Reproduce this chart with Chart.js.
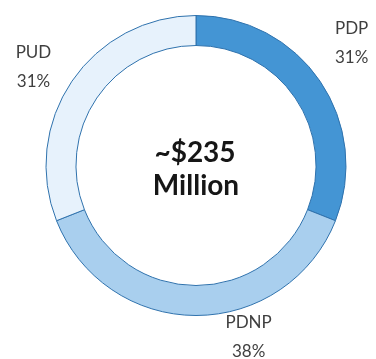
<!DOCTYPE html>
<html>
<head>
<meta charset="utf-8">
<script src="https://cdn.jsdelivr.net/npm/chart.js@4/dist/chart.umd.min.js"></script>
<style>
  html, body { margin: 0; padding: 0; background: #ffffff; }
  #wrap { width: 376px; height: 359px; position: relative; }
</style>
</head>
<body>
<div id="wrap"><canvas id="c" width="376" height="359"></canvas></div>
<script>
// Reserve categories and their share of the total (percent)
const categories = ['PDP', 'PDNP', 'PUD'];
const shares = [31, 38, 31];
const centerLines = ['~$235', 'Million'];

const fills = ['#4495d4', '#a9cfee', '#e7f2fc'];
const edge = '#2f72ad';

// Where each outside label sits: angle nudge (deg) and distance from centre (px)
const labelPlacement = [
  { nudge: -4, dist: 198 },
  { nudge: -17, dist: 180 },
  { nudge: -3, dist: 190 }
];

const sliceLabels = {
  id: 'sliceLabels',
  afterDatasetsDraw(chart) {
    const ctx = chart.ctx;
    const meta = chart.getDatasetMeta(0);
    ctx.save();
    ctx.fillStyle = '#3f3f3f';
    ctx.font = '17px Lato, "Open Sans", sans-serif';
    ctx.textAlign = 'center';
    ctx.textBaseline = 'middle';
    meta.data.forEach((arc, i) => {
      const p = arc.getProps(['x', 'y', 'startAngle', 'endAngle'], true);
      const mid = (p.startAngle + p.endAngle) / 2 + labelPlacement[i].nudge * Math.PI / 180;
      const d = labelPlacement[i].dist;
      const lx = p.x + Math.cos(mid) * d;
      const ly = p.y + Math.sin(mid) * d;
      ctx.fillText(categories[i], lx, ly - 15);
      ctx.fillText(shares[i] + '%', lx, ly + 14);
    });
    // centre total
    const c = meta.data[0].getProps(['x', 'y'], true);
    ctx.fillStyle = '#161616';
    ctx.font = 'bold 28px Lato, "Open Sans", sans-serif';
    ctx.fillText(centerLines[0], c.x - 1, c.y - 13);
    ctx.fillText(centerLines[1], c.x, c.y + 20);
    ctx.restore();
  }
};

new Chart(document.getElementById('c'), {
  type: 'doughnut',
  data: {
    labels: categories,
    datasets: [{
      data: shares,
      backgroundColor: fills,
      borderColor: edge,
      borderWidth: 1
    }]
  },
  options: {
    responsive: false,
    animation: false,
    cutout: '80%',
    layout: { padding: { left: 45, right: 29, top: 15, bottom: 43 } },
    plugins: {
      legend: { display: false },
      tooltip: { enabled: false }
    }
  },
  plugins: [sliceLabels]
});
</script>
</body>
</html>
